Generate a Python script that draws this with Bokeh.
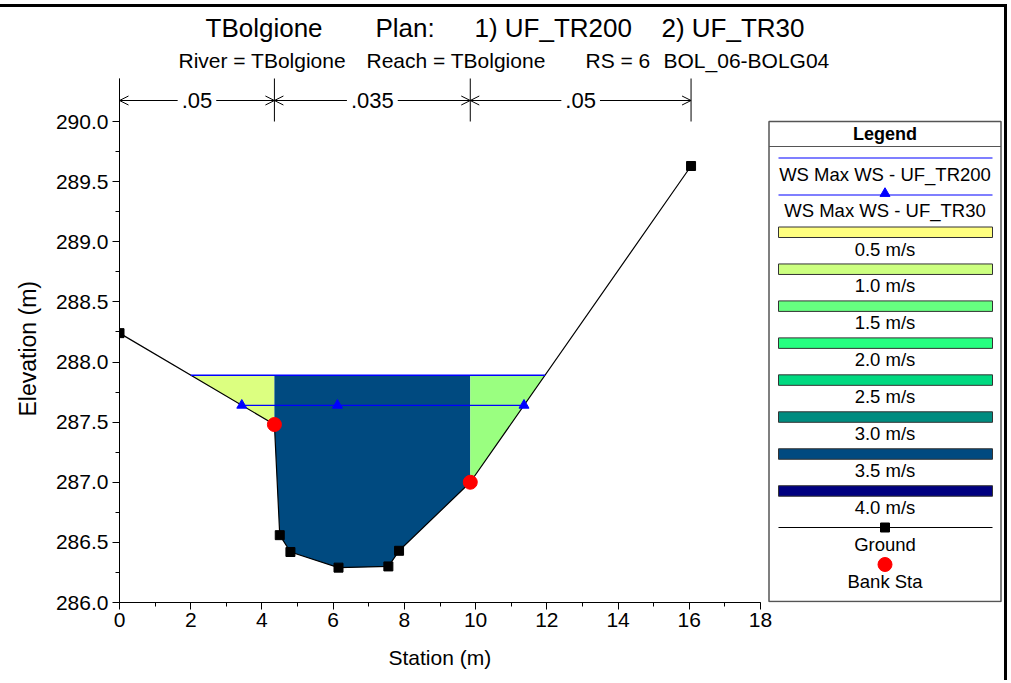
import numpy as np
from bokeh.plotting import figure
from bokeh.models import FixedTicker, PrintfTickFormatter, Arrow, OpenHead, Range1d, Title
from bokeh.core.properties import value
from bokeh.embed import file_html
from bokeh.resources import INLINE

# ---- cross-section data -------------------------------------------------
ground_sta = [0.0, 4.35, 4.50, 4.80, 6.15, 7.55, 7.85, 9.85, 16.05]
ground_elev = [288.24, 287.48, 286.56, 286.42, 286.29, 286.30, 286.43, 287.00, 289.63]
bank_sta = [4.35, 9.85]

ws_tr200 = 287.89          # WS Max WS - UF_TR200
ws_tr30 = 287.64           # WS Max WS - UF_TR30
ws_tr30_mid_marks = [6.12]

n_bounds = [0.0, 4.35, 9.85, 16.05]
n_labels = [".05", ".035", ".05"]

# velocity shading of left overbank, main channel, right overbank
sub_colors = ["#DCFF80", "#004A80", "#9AFF80"]

vel_labels = ["0.5 m/s", "1.0 m/s", "1.5 m/s", "2.0 m/s",
              "2.5 m/s", "3.0 m/s", "3.5 m/s", "4.0 m/s"]
vel_colors = ["#FFFF80", "#CCFF80", "#66FF80", "#26FF80",
              "#00D980", "#008C80", "#004A80", "#000080"]

x_ticks = list(range(0, 19, 2))
x_minor = list(range(0, 19, 1))
y_ticks = [286.0, 286.5, 287.0, 287.5, 288.0, 288.5, 289.0, 289.5, 290.0]
y_minor = [286.0 + 0.25 * i for i in range(17)]

# ---- page geometry -------------------------------------------------------
FONT = "Liberation Sans"
PX_PER_X = 641 / 18
PX_PER_Y = 481 / 4
ORIGIN_X = 119      # page px of station 0
ORIGIN_Y = 602      # page px of elevation 286
TOP_OFFSET = 7      # margin + border above the canvas
CANVAS_W = 1007
CANVAS_H = 683 - TOP_OFFSET


def dx(px):
    return (px - ORIGIN_X) / PX_PER_X


def dy(py):
    return 286.0 + (ORIGIN_Y - py) / PX_PER_Y


gs = np.array(ground_sta)
ge = np.array(ground_elev)


def water_edges(ws):
    """Leftmost and rightmost stations where the water surface meets the ground."""
    edges = []
    for i in range(len(gs) - 1):
        z0, z1 = ge[i], ge[i + 1]
        if (z0 - ws) * (z1 - ws) <= 0 and z0 != z1:
            edges.append(gs[i] + (ws - z0) / (z1 - z0) * (gs[i + 1] - gs[i]))
    return min(edges), max(edges)


def wet_polygon(a, b, ws):
    inner = [(s, z) for s, z in zip(gs, ge) if a < s < b]
    xs = [a, b, b] + [s for s, _ in inner[::-1]] + [a]
    ys = [ws, ws, float(np.interp(b, gs, ge))] + [z for _, z in inner[::-1]] + [float(np.interp(a, gs, ge))]
    return xs, ys


p = figure(width=CANVAS_W, height=CANVAS_H, title=None,
           output_backend="svg", toolbar_location=None,
           x_range=Range1d(0, dx(ORIGIN_X + 888)),
           y_range=Range1d(286.0, dy(TOP_OFFSET)),
           min_border_left=ORIGIN_X, min_border_right=0,
           min_border_top=0, min_border_bottom=683 - ORIGIN_Y)
p.styles = {"margin-top": "4px", "border-top": "3px solid black",
            "border-right": "3px solid black"}
p.outline_line_color = None
p.xgrid.visible = False
p.ygrid.visible = False
p.background_fill_color = "white"
p.border_fill_color = "white"

# axes
p.xaxis.ticker = FixedTicker(ticks=x_ticks, minor_ticks=x_minor)
p.yaxis.ticker = FixedTicker(ticks=y_ticks, minor_ticks=y_minor)
p.yaxis.formatter = PrintfTickFormatter(format="%.1f")
p.xaxis.bounds = (0, 18)
p.yaxis.bounds = (286.0, dy(78))
for ax in (p.xaxis, p.yaxis):
    ax.axis_line_color = "black"
    ax.axis_line_width = 1
    ax.major_tick_line_color = "black"
    ax.minor_tick_line_color = "black"
    ax.major_tick_out = 7
    ax.major_tick_in = 0
    ax.minor_tick_out = 4
    ax.minor_tick_in = 0
    ax.major_label_text_font = FONT
    ax.major_label_text_font_size = "21px"
    ax.major_label_text_color = "black"
p.xaxis.major_label_standoff = 3
p.yaxis.major_label_standoff = 4

# axis titles, placed along the plotted station / elevation span
p.add_layout(Title(text="Station (m)", align="left", offset=269, standoff=29,
                   text_font=FONT, text_font_size="21px",
                   text_font_style="normal", text_color="black"), "below")
p.add_layout(Title(text="Elevation (m)", align="left", offset=186, standoff=24,
                   text_font=FONT, text_font_size="23px",
                   text_font_style="normal", text_color="black"), "left")

# wetted area, shaded by velocity per subsection
xl, xr = water_edges(ws_tr200)
cuts = [xl] + bank_sta + [xr]
polys = [wet_polygon(cuts[i], cuts[i + 1], ws_tr200) for i in range(3)]
p.patches([q[0] for q in polys], [q[1] for q in polys],
          fill_color=sub_colors, line_color=None)

# ground
p.line(ground_sta, ground_elev, line_color="black", line_width=1.2)
p.scatter(ground_sta, ground_elev, marker="square", size=9, color="black")

# water surfaces
p.line([xl, xr], [ws_tr200, ws_tr200], line_color="#0000FF", line_width=1.5)
l30, r30 = water_edges(ws_tr30)
p.line([l30, r30], [ws_tr30, ws_tr30], line_color="#0000FF", line_width=1.2)
marks30 = [l30] + ws_tr30_mid_marks + [r30]
p.scatter(marks30, [ws_tr30] * len(marks30), marker="triangle", size=10,
          color="#0000FF")

# bank stations
p.scatter(bank_sta, list(np.interp(bank_sta, gs, ge)), marker="circle", size=14,
          color="#FF0000")

# Manning's n bracket
n_top = dy(78)
n_arrow_y = dy(100)
p.segment(x0=n_bounds, y0=[290.0] * len(n_bounds), x1=n_bounds,
          y1=[n_top] * len(n_bounds), line_color="black", line_width=1)
char_em = {".": 0.278}
n_font_px = 22
for a, b, lab in zip(n_bounds[:-1], n_bounds[1:], n_labels):
    mid = (a + b) / 2
    w_px = sum(char_em.get(c, 0.556) for c in lab) * n_font_px
    half = (w_px / 2 + 4) / PX_PER_X
    p.add_layout(Arrow(x_start=mid - half, y_start=n_arrow_y, x_end=a, y_end=n_arrow_y,
                       end=OpenHead(size=9, line_width=1), line_width=1))
    p.add_layout(Arrow(x_start=mid + half, y_start=n_arrow_y, x_end=b, y_end=n_arrow_y,
                       end=OpenHead(size=9, line_width=1), line_width=1))
    p.text(x=[mid], y=[n_arrow_y], text=[lab], text_font=value(FONT),
           text_font_size=f"{n_font_px}px", text_align="center",
           text_baseline="middle", text_color="black")

# headings
title_parts = ["TBolgione", "Plan:", "1) UF_TR200", "2) UF_TR30"]
title_left_px = [205, 375, 474, 661]
p.text(x=[dx(v) for v in title_left_px], y=[dy(27)] * 4, text=title_parts,
       text_font=value(FONT), text_font_size="26px", text_align="left",
       text_baseline="middle", text_color="black")
sub_parts = ["River = TBolgione", "Reach = TBolgione", "RS = 6", "BOL_06-BOLG04"]
sub_left_px = [178, 366, 585, 663]
p.text(x=[dx(v) for v in sub_left_px], y=[dy(60)] * 4, text=sub_parts,
       text_font=value(FONT), text_font_size="21px", text_align="left",
       text_baseline="middle", text_color="black")

# ---- legend box ----------------------------------------------------------
LX0, LX1, LCX = 768.5, 1000.5, 884.5
SW0, SW1 = 778, 992
p.quad(left=[dx(LX0)], right=[dx(LX1)], top=[dy(121)], bottom=[dy(601)],
       fill_color="white", line_color="#555555", line_width=1.5)
p.segment(x0=[dx(LX0)], y0=[dy(146)], x1=[dx(LX1)], y1=[dy(146)],
          line_color="#555555", line_width=1)
p.text(x=[dx(LCX)], y=[dy(133)], text=["Legend"], text_font=value(FONT),
       text_font_size="18px", text_font_style="bold", text_align="center",
       text_baseline="middle", text_color="black")

leg_text_y, leg_text = [], []

# water surface entries
p.line([dx(SW0), dx(SW1)], [dy(157.5)] * 2, line_color="#0000FF", line_width=1.2)
leg_text += ["WS Max WS - UF_TR200"]
leg_text_y += [174]
p.line([dx(SW0), dx(SW1)], [dy(194.5)] * 2, line_color="#0000FF", line_width=1.2)
p.scatter([dx(LCX)], [dy(193)], marker="triangle", size=10, color="#0000FF")
leg_text += ["WS Max WS - UF_TR30"]
leg_text_y += [210]

# velocity bars
row = 36.96
bar_tops = [226.5 + row * i for i in range(len(vel_labels))]
p.quad(left=[dx(SW0)] * len(vel_labels), right=[dx(SW1)] * len(vel_labels),
       top=[dy(t) for t in bar_tops], bottom=[dy(t + 10.5) for t in bar_tops],
       fill_color=vel_colors, line_color="#333333", line_width=1)
leg_text += vel_labels
leg_text_y += [t + 22 for t in bar_tops]

# ground and bank entries
p.line([dx(SW0), dx(SW1)], [dy(527)] * 2, line_color="black", line_width=1.2)
p.scatter([dx(LCX)], [dy(527)], marker="square", size=9, color="black")
leg_text += ["Ground"]
leg_text_y += [543.5]
p.scatter([dx(LCX)], [dy(564)], marker="circle", size=14, color="#FF0000")
leg_text += ["Bank Sta"]
leg_text_y += [581]

p.text(x=[dx(LCX)] * len(leg_text), y=[dy(v) for v in leg_text_y], text=leg_text,
       text_font=value(FONT), text_font_size="18.5px", text_align="center",
       text_baseline="middle", text_color="black")

open("out.html", "w").write(file_html(p, INLINE))
